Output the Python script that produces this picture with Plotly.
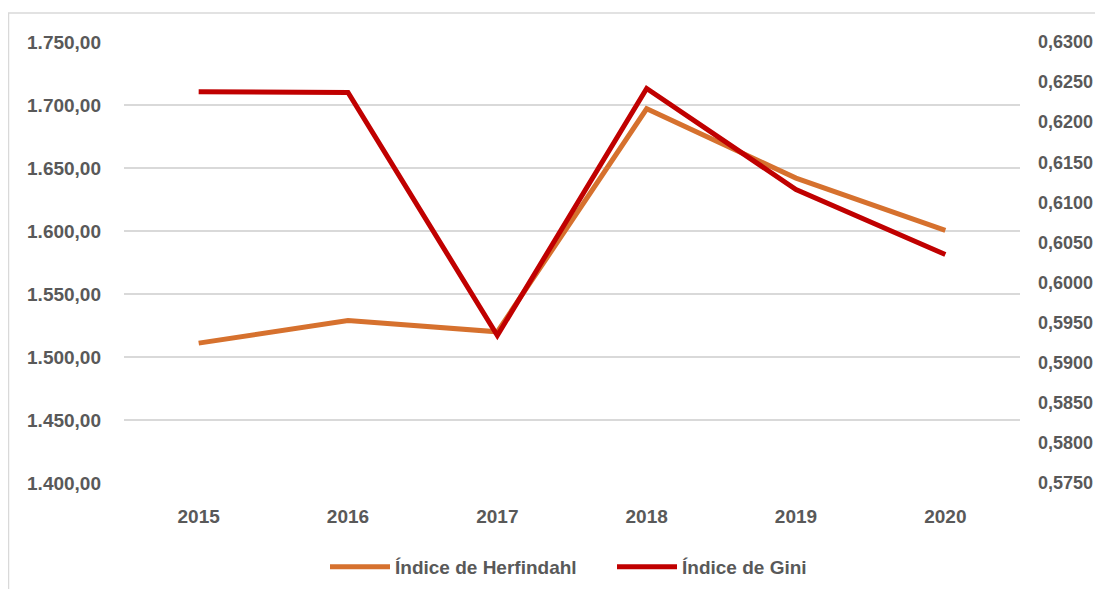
import plotly.graph_objects as go

years = ["2015", "2016", "2017", "2018", "2019", "2020"]
herfindahl = [1511.0, 1529.0, 1520.0, 1697.0, 1642.0, 1600.5]
gini = [0.6238, 0.6237, 0.5934, 0.6242, 0.6116, 0.6035]

orange = "#D6712E"
red = "#C00000"
gray_text = "#595959"
grid = "#D9D9D9"
FONT = "Liberation Sans, Arial, sans-serif"
FS = 19

# page body has an 8px margin; keep the figure inside the visible window area
OFF = 8
W, H = 1103 - 2 * OFF, 597 - 2 * OFF
L, T = 124 - OFF, 42 - OFF
R = W - (1020 - OFF)
B = H - (483 - OFF)
pw, ph = W - L - R, H - T - B

def px2paper_x(x):  # screen px -> paper
    return (x - OFF - L) / pw

def px2paper_y(y):
    return (H - B - (y - OFF)) / ph

tf = dict(family=FONT, size=FS, color=gray_text, weight="bold")
tf_r = dict(family=FONT, size=18, color=gray_text, weight="bold")

fig = go.Figure()
fig.add_trace(go.Scatter(x=years, y=herfindahl, name="Índice de Herfindahl", mode="lines",
                         line=dict(color=orange, width=5), yaxis="y"))
fig.add_trace(go.Scatter(x=years, y=gini, name="Índice de Gini", mode="lines",
                         line=dict(color=red, width=5), yaxis="y2"))

fig.update_layout(
    width=W, height=H,
    margin=dict(l=L, r=R, t=T, b=B, autoexpand=False),
    paper_bgcolor="white", plot_bgcolor="white",
    separators=",.",
    font=dict(family=FONT, size=FS, color=gray_text),
    showlegend=True,
    legend=dict(orientation="h", x=px2paper_x(325), xanchor="left",
                y=px2paper_y(567), yanchor="middle",
                font=tf, itemwidth=60, entrywidth=212, tracegroupgap=0,
                bgcolor="rgba(0,0,0,0)"),
    xaxis=dict(type="category", range=[-0.5, 5.5], showgrid=False, showline=False,
               ticks="", tickfont=tf, ticklabelstandoff=20, automargin=False),
    yaxis=dict(range=[1400, 1750], dtick=50, tick0=1400, tickformat=",.2f",
               showgrid=True, gridcolor=grid, gridwidth=1.5, zeroline=False, showline=False,
               ticks="", tickfont=tf, ticklabelstandoff=22, automargin=False),
    yaxis2=dict(range=[0.575, 0.630], dtick=0.005, tick0=0.575, tickformat=".4f",
                overlaying="y", side="right", showgrid=False, zeroline=False, showline=False,
                ticks="", tickfont=tf_r, ticklabelstandoff=17, automargin=False),
    hovermode=False,
    shapes=[dict(type="rect", xref="paper", yref="paper",
                 x0=px2paper_x(8.5), x1=px2paper_x(1120),
                 y0=px2paper_y(620), y1=px2paper_y(13),
                 line=dict(color=grid, width=1.5), fillcolor="rgba(0,0,0,0)", layer="below")],
)

fig.write_html("out.html")
